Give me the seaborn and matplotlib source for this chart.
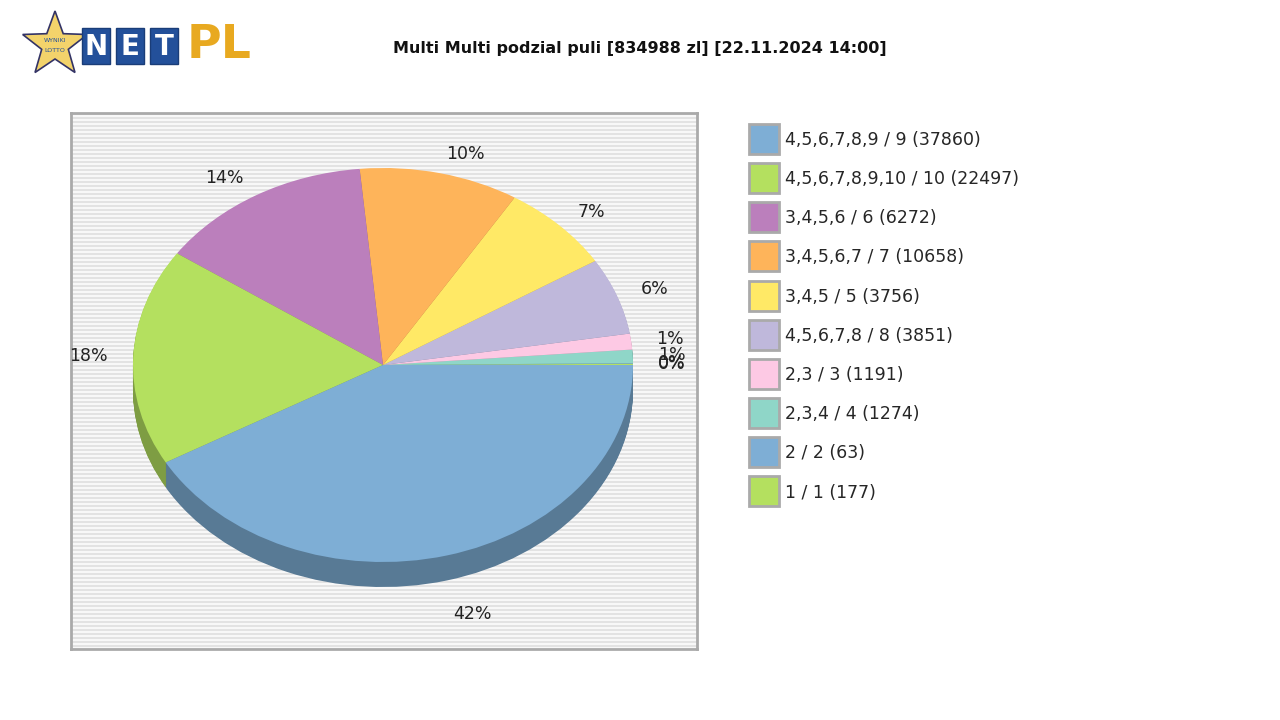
import numpy as np
import matplotlib
matplotlib.use("Agg")
import matplotlib.pyplot as plt
import matplotlib.colors as mcolors
from matplotlib.patches import Rectangle, Polygon
from matplotlib.lines import Line2D
import seaborn as sns

sns.set_theme(style="white")
plt.rcParams["font.family"] = "DejaVu Sans"

TITLE = "Multi Multi podzial puli [834988 zl] [22.11.2024 14:00]"

# legend order (top to bottom)
categories = ["4,5,6,7,8,9 / 9 (37860)", "4,5,6,7,8,9,10 / 10 (22497)",
              "3,4,5,6 / 6 (6272)", "3,4,5,6,7 / 7 (10658)", "3,4,5 / 5 (3756)",
              "4,5,6,7,8 / 8 (3851)", "2,3 / 3 (1191)", "2,3,4 / 4 (1274)",
              "2 / 2 (63)", "1 / 1 (177)"]
shares = [41.7, 17.8, 13.9, 10.3, 7.3, 6.3, 1.3, 1.1, 0.05, 0.1]
colors = ["#7eaed5", "#b4e05f", "#bb7fbc", "#feb45a", "#ffe966",
          "#bfb8db", "#fdc9e4", "#8fd6c8", "#7eaed5", "#b4e05f"]

fig = plt.figure(figsize=(12.8, 7.2), dpi=100)
W, H = 1280, 720


def px_axes(x0, y0, x1, y1):
    return fig.add_axes([x0 / W, 1 - y1 / H, (x1 - x0) / W, (y1 - y0) / H])


# striped plot background
bg = px_axes(71, 113, 697, 649)
stripes = np.tile([[0.89], [0.97]], (134, 1))
bg.imshow(stripes, cmap="gray", vmin=0, vmax=1, aspect="auto", interpolation="nearest")
bg.set_xticks([]); bg.set_yticks([])
for s in bg.spines.values():
    s.set_color("#aaaaaa"); s.set_linewidth(2)

ax = px_axes(71, 113, 697, 649)
ax.set_facecolor("none")
vals = shares[::-1]
cols = colors[::-1]
dark = [tuple(c * 0.7 for c in mcolors.to_rgb(x)) for x in cols]
total = sum(vals)
depth = 25 / 197
for d in np.linspace(depth, 0.005, 26):
    ax.pie(vals, colors=dark, startangle=0, counterclock=True, center=(0, -d),
           wedgeprops=dict(linewidth=0))
labels = [f"{round(v / total * 100)}%" for v in vals]
_, texts = ax.pie(vals, colors=cols, startangle=0, counterclock=True, labels=labels,
                  labeldistance=1.1, wedgeprops=dict(linewidth=0),
                  textprops=dict(fontsize=12.5, color="#222222"))
# labels under the pie sit below its rim
for t in texts:
    x, y = t.get_position()
    if y < -0.3:
        t.set_position((x, y - 1.6 * depth))
ax.set_aspect("auto")
ax.set_xlim(-(383 - 71) / 250, (697 - 383) / 250)
ax.set_ylim(-(649 - 365) / 197, (365 - 113) / 197)
ax.axis("off")

# legend
handles = [Line2D([], [], marker="s", linestyle="none", markersize=21,
                  markerfacecolor=c, markeredgecolor="#aaaaaa", markeredgewidth=2)
           for c in colors]
fig.legend(handles, categories, loc="upper left", bbox_to_anchor=(744 / W, 1 - 124 / H),
           frameon=False, labelspacing=1.22, handletextpad=0.45,
           borderaxespad=0, handlelength=1.5, prop=dict(size=12.5))

fig.text(640 / W, 1 - 48 / H, TITLE, ha="center", va="center",
         fontsize=11.5, fontweight="bold", color="#111111")

# logo
lg = px_axes(20, 10, 265, 80)
lg.set_xlim(0, 245); lg.set_ylim(70, 0); lg.axis("off")
ang = np.linspace(np.pi / 2, np.pi / 2 + 2 * np.pi, 11)[:-1]
rad = np.array([34, 14] * 5)
star = np.c_[35 + rad * np.cos(ang), 35 - rad * np.sin(ang)]
lg.add_patch(Polygon(star, closed=True, facecolor="#f3d36b", edgecolor="#333366", lw=1.2))
lg.text(35, 30, "WYNIKI", ha="center", va="center", fontsize=4.5, color="#23509a")
lg.text(35, 40, "LOTTO", ha="center", va="center", fontsize=4.5, color="#23509a")
for i, ch in enumerate("NET"):
    x = 62 + i * 34
    lg.add_patch(Rectangle((x, 18), 28, 36, facecolor="#23509a", edgecolor="#1a3d78"))
    lg.text(x + 14, 37, ch, ha="center", va="center", color="white",
            fontsize=20, fontweight="bold")
lg.text(167, 36, "PL", ha="left", va="center", color="#e8a920",
        fontsize=34, fontweight="bold")

fig.savefig("out.png", dpi=100, facecolor="white")
